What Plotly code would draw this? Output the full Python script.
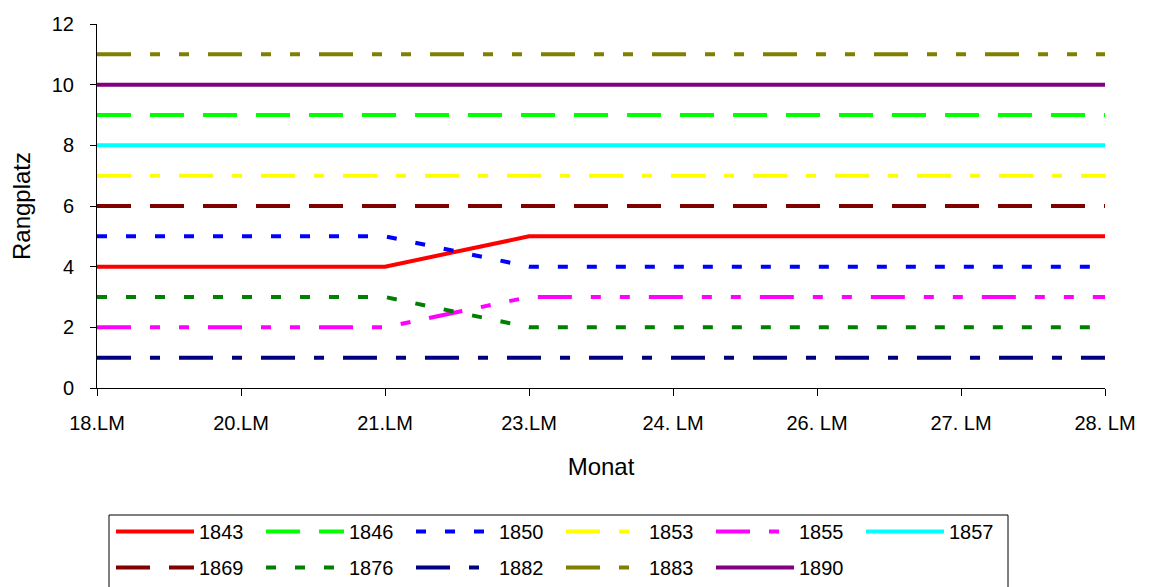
import plotly.graph_objects as go

months = ["18.LM", "20.LM", "21.LM", "23.LM", "24. LM", "26. LM", "27. LM", "28. LM"]

r1843 = [4, 4, 4, 5, 5, 5, 5, 5]
r1846 = [9, 9, 9, 9, 9, 9, 9, 9]
r1850 = [5, 5, 5, 4, 4, 4, 4, 4]
r1853 = [7, 7, 7, 7, 7, 7, 7, 7]
r1855 = [2, 2, 2, 3, 3, 3, 3, 3]
r1857 = [8, 8, 8, 8, 8, 8, 8, 8]
r1869 = [6, 6, 6, 6, 6, 6, 6, 6]
r1876 = [3, 3, 3, 2, 2, 2, 2, 2]
r1882 = [1, 1, 1, 1, 1, 1, 1, 1]
r1883 = [11, 11, 11, 11, 11, 11, 11, 11]
r1890 = [10, 10, 10, 10, 10, 10, 10, 10]

LONG = "34px,19px"
DOT = "10px,19px"
DASHDOT = "34px,19px,10px,19px"
DASHDOTDOT = "34px,19px,10px,19px,10px,19px"

# (name, values, colour, dash, legend row)
series = [
    ("1843", r1843, "#FF0000", "solid", "legend"),
    ("1846", r1846, "#00FF00", LONG, "legend"),
    ("1850", r1850, "#0000FF", DOT, "legend"),
    ("1853", r1853, "#FFFF00", DASHDOT, "legend"),
    ("1855", r1855, "#FF00FF", DASHDOTDOT, "legend"),
    ("1857", r1857, "#00FFFF", "solid", "legend"),
    ("1869", r1869, "#800000", LONG, "legend2"),
    ("1876", r1876, "#008000", DOT, "legend2"),
    ("1882", r1882, "#000080", DASHDOT, "legend2"),
    ("1883", r1883, "#808000", DASHDOTDOT, "legend2"),
    ("1890", r1890, "#800080", "solid", "legend2"),
]

FONT = "Liberation Sans, Arial, sans-serif"
FS = 20

# the page body has an 8px margin; work in screen pixels and subtract it
OFF = 8
FW, FH = 1150 - OFF, 587 - OFF
# plot area in screen pixels
L, R, T, B = 97, 1105, 24, 388
W, H = R - L, B - T


def px(x):
    return (x - L) / W


def py(y):
    return (B - y) / H


fig = go.Figure()
for name, vals, color, dash, leg in series:
    fig.add_trace(go.Scatter(
        x=months, y=vals, name=name, mode="lines", legend=leg,
        line=dict(color=color, width=4, dash=dash),
    ))

legend_common = dict(
    orientation="h", xanchor="left", yanchor="top",
    borderwidth=0, bgcolor="rgba(0,0,0,0)",
    entrywidth=57, entrywidthmode="pixels",
    itemwidth=78,
    font=dict(family=FONT, size=FS, color="black"),
    traceorder="normal",
)

fig.update_layout(
    width=FW, height=FH,
    margin=dict(l=L - OFF, r=FW - (R - OFF), t=T - OFF, b=FH - (B - OFF),
                autoexpand=False),
    paper_bgcolor="white", plot_bgcolor="white",
    font=dict(family=FONT, size=FS, color="black"),
    showlegend=True,
    legend=dict(x=px(111), y=py(512), **legend_common),
    legend2=dict(x=px(111), y=py(548), **legend_common),
    xaxis=dict(
        type="category", range=[0, 7],
        showline=True, linecolor="black", linewidth=1,
        ticks="outside", ticklen=7, tickcolor="black",
        showgrid=False, zeroline=False,
        ticklabelstandoff=10,
        title=dict(text="Monat", standoff=25),
    ),
    yaxis=dict(
        range=[0, 12], tickvals=[0, 2, 4, 6, 8, 10, 12],
        showline=True, linecolor="black", linewidth=1,
        ticks="outside", ticklen=6, tickcolor="black",
        showgrid=False, zeroline=False,
        ticklabelstandoff=12,
        title=dict(text="Rangplatz", standoff=14),
    ),
    shapes=[dict(
        type="rect", xref="paper", yref="paper",
        x0=px(109), x1=px(1008), y0=py(515), y1=py(600),
        line=dict(color="black", width=1), fillcolor="rgba(0,0,0,0)",
        layer="above",
    )],
)

fig.write_html("out.html")
